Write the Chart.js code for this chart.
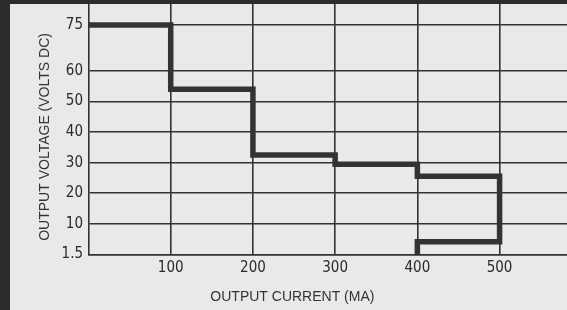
<!DOCTYPE html>
<html>
<head>
<meta charset="utf-8">
<script src="https://cdn.jsdelivr.net/npm/chart.js@4.4.1/dist/chart.umd.min.js"></script>
<style>
  html, body { margin: 0; padding: 0; background: #e9e9e7; }
  #frame {
    position: absolute; left: 0; top: 0;
    width: 557px; height: 306px;
    border-left: 10px solid #2c2c2c;
    border-top: 4px solid #2c2c2c;
    background: #e9e9e7;
  }
</style>
</head>
<body>
<div id="frame"><canvas id="stepChart" width="557" height="306"></canvas></div>
<script>
// Datos (corriente en mA, tensión en V DC)
const currentMA = [0, 100, 100, 200, 200, 300, 300, 400, 400, 500, 500, 400, 400];
const voltsDC   = [75, 75, 54, 54, 32.5, 32.5, 29.5, 29.5, 25.5, 25.5, 5, 5, 1.5];

const xTicks = [100, 200, 300, 400, 500];
const yTickLabels = [1.5, 10, 20, 30, 40, 50, 60, 75];

// eje roto: de 1.5 a 10 ocupa lo mismo que un tramo de 10 V
function toAxis(v) {
    return v >= 10 ? v / 10 : (v - 1.5) / 8.5;
}

const ink = '#333333';
const fontStack = "'Liberation Sans Narrow', 'DejaVu Sans Condensed', 'Liberation Sans', sans-serif";

const ctx = document.getElementById('stepChart').getContext('2d');
const stepChart = new Chart(ctx, {
    type: 'line',
    data: {
        datasets: [{
            data: currentMA.map((x, i) => ({ x: x, y: toAxis(voltsDC[i]) })),
            borderColor: ink,
            borderWidth: 5.5,
            borderJoinStyle: 'miter',
            borderCapStyle: 'butt',
            pointRadius: 0,
            tension: 0,
            fill: false
        }]
    },
    options: {
        responsive: false,
        devicePixelRatio: 1,
        animation: false,
        layout: { padding: 0 },
        plugins: {
            legend: { display: false },
            tooltip: { enabled: false },
            title: {
                display: true,
                position: 'bottom',
                text: '  OUTPUT CURRENT (MA)', // espacios: el título original está algo desplazado a la derecha
                color: ink,
                font: { family: "'Liberation Sans', Arial, sans-serif", size: 14, weight: 'normal' },
                padding: { top: 5, bottom: 4 }
            }
        },
        scales: {
            x: {
                type: 'linear',
                min: 0,
                max: 582,
                afterBuildTicks: (scale) => { scale.ticks = xTicks.map(v => ({ value: v })); },
                afterFit: (scale) => {
                    scale.height = 29.9;
                    scale.paddingLeft = 0;
                    scale.paddingRight = 0;
                },
                grid: { color: ink, lineWidth: 1.6, drawTicks: false },
                border: { color: ink, width: 1.6 },
                ticks: {
                    color: '#2a2a2a',
                    padding: 5,
                    maxRotation: 0,
                    font: { family: fontStack, size: 15 }
                }
            },
            y: {
                type: 'linear',
                min: 0,
                max: 8.19,
                afterBuildTicks: (scale) => { scale.ticks = yTickLabels.map(v => ({ value: toAxis(v) })); },
                afterFit: (scale) => {
                    scale.width = 78.5;
                    scale.paddingTop = 0;
                    scale.paddingBottom = 0;
                },
                grid: { color: ink, lineWidth: 1.6, drawTicks: false },
                border: { color: ink, width: 1.6 },
                ticks: {
                    color: '#2a2a2a',
                    padding: 5.5,
                    font: { family: fontStack, size: 15 },
                    callback: (value, index) => String(yTickLabels[index])
                },
                title: {
                    display: true,
                    text: 'OUTPUT VOLTAGE (VOLTS DC)    ',
                    color: ink,
                    font: { family: "'Liberation Sans', Arial, sans-serif", size: 14, weight: 'normal' },
                    padding: { top: 26.5, bottom: 0 }
                }
            }
        }
    }
});
</script>
</body>
</html>
